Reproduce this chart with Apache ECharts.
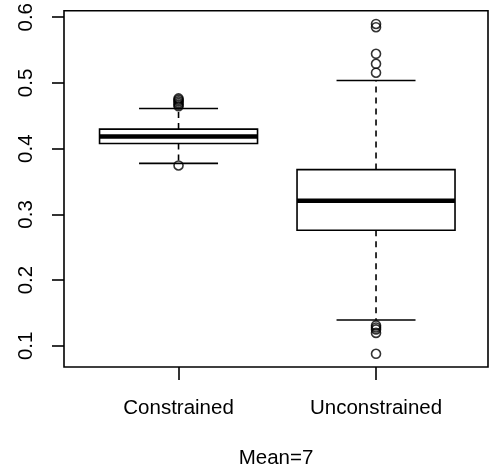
<!DOCTYPE html>
<html>
<head>
<meta charset="utf-8">
<script src="https://cdn.jsdelivr.net/npm/echarts@6/dist/echarts.min.js"></script>
<style>
  html, body { margin: 0; padding: 0; background: #fff; }
  #main { width: 490px; height: 476px; }
</style>
</head>
<body>
<div id="main"></div>
<script>
// groups on the x axis
const categories = ['Constrained', 'Unconstrained'];
// [lower whisker, Q1, median, Q3, upper whisker]
const constrainedStats = [0.3777, 0.4080, 0.4186, 0.4298, 0.4611];
const unconstrainedStats = [0.1394, 0.2758, 0.3208, 0.3682, 0.5038];
// points beyond the whiskers
const constrainedOutliers = [0.4765, 0.4745, 0.4720, 0.4695, 0.4670, 0.4645, 0.3745];
const unconstrainedOutliers = [0.5898, 0.5848, 0.5444, 0.5292, 0.5156, 0.1311, 0.1280, 0.1250, 0.1197, 0.0879];
const yTicks = [0.1, 0.2, 0.3, 0.4, 0.5, 0.6];
const xTitle = 'Mean=7';

const FONT = '"Liberation Sans", Arial, sans-serif';

const boxData = [constrainedStats, unconstrainedStats].map((s, i) => [i + 1].concat(s));
const outlierData = []
    .concat(constrainedOutliers.map(v => [1, v]))
    .concat(unconstrainedOutliers.map(v => [2, v]));

function renderBox(params, api) {
    const x = api.value(0);
    const lo = api.value(1), q1 = api.value(2), med = api.value(3), q3 = api.value(4), hi = api.value(5);
    const halfBox = 0.4, halfCap = 0.2;
    const pLT = api.coord([x - halfBox, q3]);
    const pRB = api.coord([x + halfBox, q1]);
    const cx = api.coord([x, med])[0];
    const yOf = v => api.coord([x, v])[1];
    const capL = api.coord([x - halfCap, lo])[0];
    const capR = api.coord([x + halfCap, lo])[0];
    const solid = { stroke: '#000', lineWidth: 1.6, fill: null };
    const dashed = { stroke: '#000', lineWidth: 1.6, lineDash: [6, 5] };
    return {
        type: 'group',
        children: [
            { type: 'line', shape: { x1: cx, y1: yOf(q3), x2: cx, y2: yOf(hi) }, style: dashed },
            { type: 'line', shape: { x1: cx, y1: yOf(q1), x2: cx, y2: yOf(lo) }, style: dashed },
            { type: 'line', shape: { x1: capL, y1: yOf(hi), x2: capR, y2: yOf(hi) }, style: solid },
            { type: 'line', shape: { x1: capL, y1: yOf(lo), x2: capR, y2: yOf(lo) }, style: solid },
            { type: 'rect', shape: { x: pLT[0], y: pLT[1], width: pRB[0] - pLT[0], height: pRB[1] - pLT[1] },
              style: { stroke: '#000', lineWidth: 1.6, fill: '#fff' } },
            { type: 'line', shape: { x1: pLT[0], y1: yOf(med), x2: pRB[0], y2: yOf(med) },
              style: { stroke: '#000', lineWidth: 4.5 } }
        ]
    };
}

const chart = echarts.init(document.getElementById('main'), null, { renderer: 'canvas' });
chart.setOption({
    backgroundColor: '#fff',
    animation: false,
    textStyle: { fontFamily: FONT },
    grid: {
        left: 64, right: 2, top: 9, bottom: 109,
        show: true, borderColor: '#000', borderWidth: 1.6, backgroundColor: 'transparent'
    },
    xAxis: {
        type: 'value',
        min: 0.42, max: 2.567,
        splitLine: { show: false },
        axisLine: { show: false },
        axisTick: { show: true, length: 13, customValues: [1, 2], lineStyle: { color: '#000', width: 1.6 } },
        axisLabel: {
            customValues: [1, 2],
            formatter: v => categories[Math.round(v) - 1],
            color: '#000', fontSize: 20.5, fontFamily: FONT, margin: 31
        },
        name: xTitle,
        nameLocation: 'middle',
        nameGap: 81,
        nameTextStyle: { color: '#000', fontSize: 20.5, fontFamily: FONT }
    },
    yAxis: {
        type: 'value',
        min: 0.0678, max: 0.6099,
        splitLine: { show: false },
        axisLine: { show: false },
        axisTick: { show: true, length: 12, customValues: yTicks, lineStyle: { color: '#000', width: 1.6 } },
        axisLabel: {
            customValues: yTicks,
            formatter: v => v.toFixed(1),
            rotate: 90,
            color: '#000', fontSize: 20.5, fontFamily: FONT, margin: 27
        }
    },
    series: [
        {
            type: 'custom',
            renderItem: renderBox,
            data: boxData,
            encode: { x: 0, y: [1, 2, 3, 4, 5] },
            z: 2
        },
        {
            type: 'scatter',
            data: outlierData,
            symbol: 'circle',
            symbolSize: 9,
            itemStyle: { color: 'rgba(0,0,0,0)', borderColor: '#000', borderWidth: 1.6 },
            z: 3
        }
    ]
});
</script>
</body>
</html>
